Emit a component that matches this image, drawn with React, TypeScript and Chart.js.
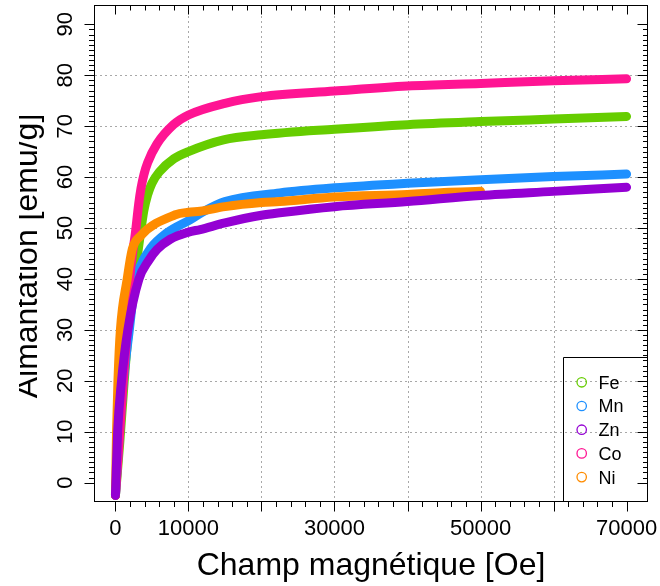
import React, { useEffect, useRef } from 'react';
import { Chart, registerables } from 'chart.js';

Chart.register(...registerables);

const FONT = '"Liberation Sans", Arial, Helvetica, sans-serif';

// ---- data (field in Oe, magnetisation in emu/g) ----
const feField = [0, 600, 1200, 1800, 2600, 3500, 3900, 4400, 5000, 6000, 8000, 10000, 14800, 20000, 30000, 40000, 50000, 60000, 70000];
const feMag = [-2.5, 8, 20, 30, 40, 49.7, 53.5, 56.5, 58.8, 61.0, 63.6, 65.0, 67.3, 68.3, 69.4, 70.3, 70.9, 71.4, 71.9];

const mnField = [0, 500, 1100, 1900, 2700, 3400, 4800, 7000, 10200, 12000, 15000, 22500, 30000, 40000, 50000, 60000, 70000];
const mnMag = [-2.5, 9, 20, 30, 39.5, 42.5, 46.0, 49.0, 51.6, 53.2, 55.2, 56.9, 57.9, 58.8, 59.5, 60.1, 60.6];

const znField = [0, 300, 800, 1700, 3200, 4500, 5700, 7500, 10000, 11600, 15000, 20000, 22500, 30000, 40000, 50000, 60000, 70000];
const znMag = [-2.5, 10, 19.5, 30, 39.9, 43.5, 45.8, 47.8, 49.2, 49.7, 51.0, 52.5, 53.0, 54.2, 55.2, 56.4, 57.2, 58.0];

const coField = [0, 500, 1090, 1590, 1950, 2730, 3190, 3500, 3900, 4400, 5680, 7950, 10000, 15000, 20000, 30000, 40000, 50000, 60000, 70000];
const coMag = [-2.5, 8, 20.3, 30, 39.9, 49, 54.8, 57.8, 60.5, 62.8, 66.5, 70.3, 72.2, 74.5, 75.8, 76.9, 77.9, 78.4, 78.9, 79.3];

const niField = [0, 150, 350, 680, 1600, 2300, 3400, 8200, 10000, 11600, 15000, 20000, 22500, 30000, 40000, 45000, 50000];
const niMag = [-2.5, 10, 20.3, 30, 39.9, 45.8, 48.4, 52.6, 53.1, 53.3, 54.2, 55.0, 55.2, 56.1, 56.6, 57.0, 57.2];

const seriesNames = ['Fe', 'Mn', 'Zn', 'Co', 'Ni'];
const seriesColors = ['#66CD00', '#1E90FF', '#9400D3', '#FF1493', '#FF8C00'];
const seriesFields = [feField, mnField, znField, coField, niField];
const seriesMags = [feMag, mnMag, znMag, coMag, niMag];
const seriesOrder = [4, 3, 0, 2, 1]; // lower = drawn on top

// ---- axes ----
const xMin = -2800;
const xMax = 72800;
const yMin = -3.6;
const yMax = 93.6;
const xMajorTicks = [0, 10000, 20000, 30000, 40000, 50000, 60000, 70000];
const xLabeledTicks = [0, 10000, 30000, 50000, 70000];
const xGridLines = [10000, 20000, 30000, 40000, 50000, 60000];
const xMinorStep = 2000;
const yMajorTicks = [0, 10, 20, 30, 40, 50, 60, 70, 80, 90];
const yGridLines = [10, 20, 30, 40, 50, 60, 70, 80];
const yMinorStep = 1;
const xTitle = 'Champ magnétique [Oe]';
const yTitle = 'Aimantation [emu/g]';

const rPlugin = {
  id: 'rstyle',
  beforeDatasetsDraw(chart: any) {
    const { ctx, chartArea } = chart;
    const xs = chart.scales.x;
    const ys = chart.scales.y;
    ctx.save();
    ctx.strokeStyle = '#a8a8a8';
    ctx.lineWidth = 1;
    ctx.setLineDash([2, 3]);
    for (const v of xGridLines) {
      const p = Math.round(xs.getPixelForValue(v)) + 0.5;
      ctx.beginPath();
      ctx.moveTo(p, chartArea.top);
      ctx.lineTo(p, chartArea.bottom);
      ctx.stroke();
    }
    for (const v of yGridLines) {
      const p = Math.round(ys.getPixelForValue(v)) + 0.5;
      ctx.beginPath();
      ctx.moveTo(chartArea.left, p);
      ctx.lineTo(chartArea.right, p);
      ctx.stroke();
    }
    ctx.restore();
  },
  afterDatasetsDraw(chart: any) {
    const { ctx, chartArea } = chart;
    const xs = chart.scales.x;
    const ys = chart.scales.y;
    const L = chartArea.left - 0.5;
    const R = chartArea.right + 0.5;
    const T = chartArea.top - 0.5;
    const B = chartArea.bottom + 0.5;
    ctx.save();
    ctx.strokeStyle = '#000';
    ctx.lineWidth = 1;
    ctx.setLineDash([]);
    ctx.strokeRect(L, T, R - L, B - T);

    // x ticks (bottom outward, top inward)
    const xMajMax = xMajorTicks[xMajorTicks.length - 1];
    for (let v = xMajorTicks[0]; v <= xMajMax; v += xMinorStep) {
      const major = xMajorTicks.includes(v);
      const p = Math.round(xs.getPixelForValue(v)) + 0.5;
      ctx.beginPath();
      ctx.moveTo(p, B);
      ctx.lineTo(p, B + (major ? 10 : 5.5));
      ctx.moveTo(p, T);
      ctx.lineTo(p, T + (major ? 9 : 5));
      ctx.stroke();
    }
    // y ticks (left outward, right inward)
    const yMajMax = yMajorTicks[yMajorTicks.length - 1];
    for (let v = yMajorTicks[0]; v <= yMajMax + 1e-9; v += yMinorStep) {
      const major = yMajorTicks.includes(Math.round(v));
      const p = Math.round(ys.getPixelForValue(v)) + 0.5;
      ctx.beginPath();
      ctx.moveTo(L, p);
      ctx.lineTo(L - (major ? 10 : 5.5), p);
      ctx.moveTo(R, p);
      ctx.lineTo(R - (major ? 10 : 4.5), p);
      ctx.stroke();
    }

    ctx.fillStyle = '#000';
    // x tick labels
    ctx.font = `22px ${FONT}`;
    ctx.textAlign = 'center';
    ctx.textBaseline = 'alphabetic';
    for (const v of xLabeledTicks) {
      ctx.fillText(String(v), xs.getPixelForValue(v), 535);
    }
    // y tick labels (rotated)
    for (const v of yMajorTicks) {
      ctx.save();
      ctx.translate(72, ys.getPixelForValue(v));
      ctx.rotate(-Math.PI / 2);
      ctx.fillText(String(v), 0, 0);
      ctx.restore();
    }
    // titles
    ctx.font = `32px ${FONT}`;
    ctx.fillText(xTitle, (chartArea.left + chartArea.right) / 2, 575);
    ctx.save();
    ctx.beginPath();
    ctx.rect(19, 0, 300, 586);
    ctx.clip();
    ctx.translate(37, 256);
    ctx.rotate(-Math.PI / 2);
    ctx.fillText(yTitle, 0, 0);
    ctx.restore();

    // legend
    const boxL = 563.5;
    const boxT = 357.5;
    ctx.beginPath();
    ctx.moveTo(boxL, B);
    ctx.lineTo(boxL, boxT);
    ctx.lineTo(R, boxT);
    ctx.stroke();
    ctx.font = `18px ${FONT}`;
    ctx.textAlign = 'left';
    for (let i = 0; i < seriesNames.length; i++) {
      const cy = 382.3 + i * 23.7;
      ctx.beginPath();
      ctx.strokeStyle = seriesColors[i];
      ctx.lineWidth = 1.3;
      ctx.arc(581.7, cy, 4.7, 0, Math.PI * 2);
      ctx.stroke();
      ctx.fillStyle = '#000';
      ctx.fillText(seriesNames[i], 598.5, cy + 6.4);
    }
    ctx.restore();
  },
};

export default function App() {
  const ref = useRef<HTMLCanvasElement>(null);
  useEffect(() => {
    const canvas = ref.current;
    if (!canvas) return;
    const chart = new Chart(canvas, {
      type: 'line',
      data: {
        datasets: seriesNames.map((name, i) => ({
          label: name,
          data: seriesFields[i].map((h, j) => ({ x: h, y: seriesMags[i][j] })),
          borderColor: seriesColors[i],
          backgroundColor: seriesColors[i],
          borderWidth: 9,
          pointRadius: 0,
          pointHoverRadius: 0,
          fill: false,
          cubicInterpolationMode: 'monotone',
          borderCapStyle: 'round',
          borderJoinStyle: 'round',
          order: seriesOrder[i],
        })),
      },
      options: {
        responsive: false,
        animation: false,
        devicePixelRatio: 1,
        events: [],
        layout: { padding: { left: 95, top: 6, right: 13, bottom: 85 } },
        plugins: { legend: { display: false }, tooltip: { enabled: false } },
        scales: {
          x: { type: 'linear', min: xMin, max: xMax, display: false },
          y: { type: 'linear', min: yMin, max: yMax, display: false },
        },
      },
      plugins: [rPlugin],
    } as any);
    return () => chart.destroy();
  }, []);
  return (
    <div style={{ position: 'absolute', left: 0, top: 0, width: 660, height: 586, background: '#fff' }}>
      <canvas ref={ref} width={660} height={586} style={{ display: 'block', width: 660, height: 586 }} />
    </div>
  );
}
